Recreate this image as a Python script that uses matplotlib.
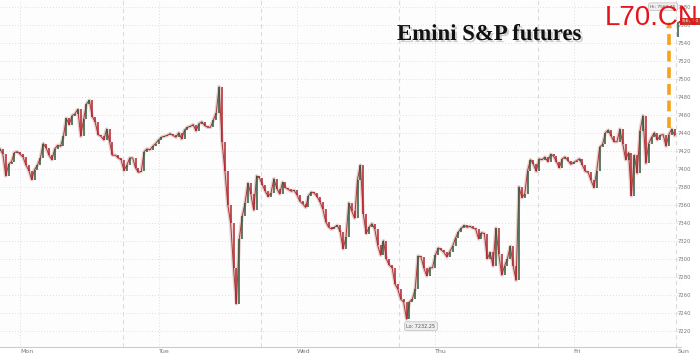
import numpy as np
import matplotlib
matplotlib.use('Agg')
import matplotlib.pyplot as plt
import matplotlib.patheffects as pe
from matplotlib.lines import Line2D
from matplotlib.patches import FancyArrowPatch

# Emini S&P futures, 30-min bars, Sun 20:30 -> Fri 17:30, then Sunday reopen
closes = [
    7422, 7416, 7392, 7405, 7408, 7418, 7419, 7416, 7413, 7404,
    7398, 7388, 7399, 7404, 7412, 7428, 7423, 7415, 7410, 7422,
    7426, 7425, 7436, 7456, 7449, 7459, 7461, 7466, 7436, 7455,
    7472, 7476, 7458, 7452, 7438, 7436, 7432, 7444, 7430, 7415,
    7415, 7412, 7410, 7398, 7404, 7412, 7412, 7401, 7396, 7397,
    7419, 7422, 7421, 7425, 7428, 7432, 7435, 7436, 7437, 7439,
    7437, 7435, 7440, 7433, 7443, 7446, 7447, 7449, 7442, 7450,
    7452, 7448, 7446, 7446, 7454, 7462, 7491, 7430, 7398, 7360,
    7340, 7290, 7250, 7322, 7347, 7362, 7384, 7372, 7354, 7392,
    7390, 7382, 7375, 7369, 7373, 7389, 7378, 7372, 7385, 7379,
    7377, 7375, 7376, 7371, 7364, 7361, 7357, 7370, 7374, 7373,
    7369, 7363, 7355, 7341, 7335, 7333, 7335, 7337, 7330, 7311,
    7324, 7362, 7353, 7345, 7388, 7404, 7350, 7328, 7335, 7339,
    7333, 7315, 7304, 7320, 7300, 7293, 7290, 7272, 7266, 7255,
    7252, 7233, 7252, 7255, 7266, 7303, 7302, 7290, 7281, 7290,
    7290, 7304, 7312, 7310, 7307, 7302, 7308, 7314, 7323, 7330,
    7334, 7337, 7335, 7336, 7334, 7333, 7322, 7329, 7328, 7300,
    7307, 7292, 7334, 7305, 7282, 7292, 7300, 7314, 7292, 7276,
    7380, 7368, 7372, 7398, 7410, 7405, 7397, 7411, 7410, 7413,
    7408, 7416, 7414, 7408, 7401, 7411, 7413, 7409, 7405, 7407,
    7409, 7411, 7404, 7397, 7396, 7387, 7379, 7398, 7424, 7427,
    7440, 7443, 7436, 7430, 7430, 7444, 7428, 7410, 7418, 7370,
    7415, 7395, 7442, 7459, 7406, 7428, 7435, 7440, 7432, 7437,
    7438, 7425, 7438, 7444, 7437,
]
first_open = 7420
sunday_open = 7546
sunday_closes = [7562, 7564]

day_labels = ['Mon', 'Tue', 'Wed', 'Thu', 'Fri', 'Sun']
day_bars = [7, 55, 103, 151, 199, 235]
session_bars = [42.5, 90.5, 138.5, 186.5, 234.5]
y_ticks = list(range(7220, 7600, 20))
lo_text = 'Lo: 7232.25'
hi_text = 'Hi: 7567.75'
last_text = '7563.50'

opens = [first_open] + closes[:-1] + [sunday_open] + sunday_closes[:-1]
allc = closes + sunday_closes
x = np.arange(len(allc))
o = np.array(opens, dtype=float)
c = np.array(allc, dtype=float)
n_week = len(closes)

fig = plt.figure(figsize=(7.0, 3.53), dpi=100)
fig.patch.set_facecolor('white')
ax = fig.add_axes([0, 6 / 353, 681 / 700, 347 / 353])
ax.set_facecolor('#fdfdfd')

for yv in y_ticks:
    ax.axhline(yv, color='#d6d6d6', lw=0.6, ls=(0, (1, 2.5)), zorder=0)
for xv in day_bars[:-1]:
    ax.axvline(xv, color='#d6d6d6', lw=0.6, ls=(0, (1, 2.5)), zorder=0)
for xv in session_bars:
    ax.axvline(xv, color='#dcdcdc', lw=0.8, ls=(0, (4, 3)), zorder=0)

# soft halo + thin price line behind the candles
ax.plot(x[:n_week], c[:n_week], color='#e3c4c4', lw=2.6, alpha=0.8, zorder=1,
        solid_joinstyle='round')
ax.plot(x[:n_week], c[:n_week], color='#a83a3a', lw=0.7, zorder=2, solid_joinstyle='round')
ax.plot(x[n_week:], c[n_week:], color='#2e5b3a', lw=0.7, zorder=2)

up = c >= o
ax.vlines(x, np.minimum(o, c), np.maximum(o, c), color=np.where(up, '#2e5b3a', '#b3222c'),
          lw=1.1, zorder=3)

ax.set_xlim(0, 236.2)
ax.set_ylim(7202, 7587.4)
for s in ['left', 'top', 'right']:
    ax.spines[s].set_visible(False)
ax.spines['bottom'].set_color('#cccccc')
ax.spines['bottom'].set_linewidth(0.8)

ax.yaxis.tick_right()
ax.set_yticks(y_ticks)
ax.set_yticklabels([str(v) for v in y_ticks])
ax.tick_params(axis='y', length=0, pad=-2.2, labelsize=3.8, labelcolor='#777777')
ax.set_xticks(day_bars)
ax.set_xticklabels(day_labels)
ax.tick_params(axis='x', length=0, pad=1.5, labelsize=4.5, labelcolor='#777777')
for lab in ax.get_xticklabels():
    lab.set_ha('left')

ax.annotate(lo_text, xy=(141, 7233), xytext=(146, 7225), fontsize=3.5, color='#555555',
            ha='center', va='center',
            bbox=dict(boxstyle='round,pad=0.4', fc='#eeeeee', ec='#bbbbbb', lw=0.5),
            arrowprops=dict(arrowstyle='-', color='#aaaaaa', lw=0.5))
ax.text(230, 7580, hi_text, fontsize=3.2, color='#555555', ha='center', va='center',
        bbox=dict(boxstyle='round,pad=0.4', fc='#eeeeee', ec='#bbbbbb', lw=0.5))

fig.text(690 / 700, 1 - 21.5 / 353, last_text, fontsize=3.2, color='white', ha='center',
         va='center', bbox=dict(boxstyle='square,pad=0.3', fc='#c0392b', ec='none'))

fig.text(397 / 700, 1 - 40 / 353, 'Emini S&P futures', fontsize=16.4, fontweight='bold',
         family='Liberation Serif', color='#111111', va='baseline', ha='left',
         path_effects=[pe.withSimplePatchShadow(offset=(1.5, -1.5), shadow_rgbFace='#666666', alpha=0.3)])

# orange dashed arrow showing the weekend gap
fig.add_artist(Line2D([669 / 700] * 2, [1 - 128 / 353, 1 - 28 / 353], transform=fig.transFigure,
                      color='#f5a31a', lw=2.6, ls=(0, (3, 1.6))))
fig.add_artist(FancyArrowPatch((669 / 700, 1 - 30 / 353), (669 / 700, 1 - 19 / 353),
                               transform=fig.transFigure, arrowstyle='-|>', mutation_scale=9,
                               color='#f5a31a', lw=0.5))

fig.text(605 / 700, 1 - 25 / 353, 'L70.CN', fontsize=20, family='Liberation Sans',
         color='#e5131b', va='baseline', ha='left')

fig.savefig('out.png', dpi=100)
